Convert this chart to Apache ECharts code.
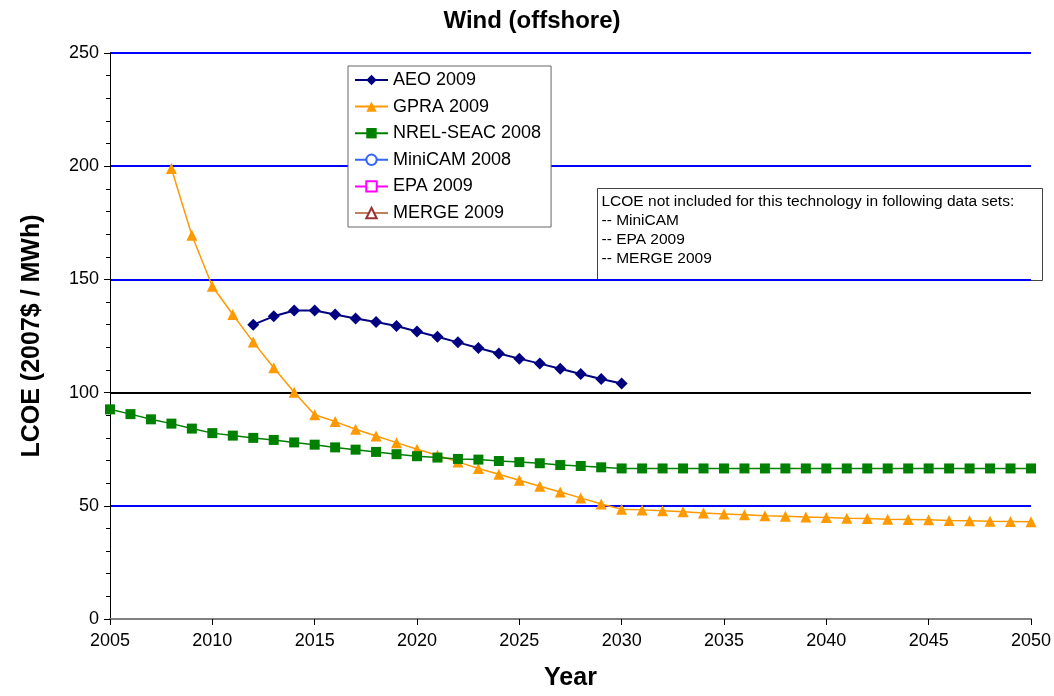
<!DOCTYPE html>
<html>
<head>
<meta charset="utf-8">
<script src="https://cdn.jsdelivr.net/npm/echarts@6/dist/echarts.min.js"></script>
<style>
  html, body { margin: 0; padding: 0; background: #fff; }
  #chart { width: 1054px; height: 696px; }
</style>
</head>
<body>
<div id="chart"></div>
<script>
// values
var aeoYears = [2012, 2013, 2014, 2015, 2016, 2017, 2018, 2019, 2020, 2021,
                2022, 2023, 2024, 2025, 2026, 2027, 2028, 2029, 2030];
var aeoValues = [130, 133.7, 136.3, 136.3, 134.5, 132.7, 131.2, 129.4, 127, 124.7,
                 122.2, 119.7, 117.3, 115, 112.8, 110.5, 108.2, 106, 104];

var gpraYears = [2008, 2009, 2010, 2011, 2012, 2013, 2014, 2015, 2016, 2017,
                 2018, 2019, 2020, 2021, 2022, 2023, 2024, 2025, 2026, 2027,
                 2028, 2029, 2030, 2031, 2032, 2033, 2034, 2035, 2036, 2037,
                 2038, 2039, 2040, 2041, 2042, 2043, 2044, 2045, 2046, 2047,
                 2048, 2049, 2050];
var gpraValues = [199, 169.5, 147, 134.5, 122.3, 111, 100.2, 90.2, 87.2, 83.8,
                  80.8, 77.9, 75, 72.3, 69.4, 66.5, 63.9, 61.3, 58.6, 56.1,
                  53.5, 50.8, 48.5, 48.2, 47.8, 47.4, 46.8, 46.4, 46, 45.6,
                  45.4, 45.1, 44.8, 44.5, 44.4, 44.1, 44, 43.8, 43.5, 43.4,
                  43.2, 43.1, 42.9];

var nrelYears = [2005, 2006, 2007, 2008, 2009, 2010, 2011, 2012, 2013, 2014,
                 2015, 2016, 2017, 2018, 2019, 2020, 2021, 2022, 2023, 2024,
                 2025, 2026, 2027, 2028, 2029, 2030, 2031, 2032, 2033, 2034,
                 2035, 2036, 2037, 2038, 2039, 2040, 2041, 2042, 2043, 2044,
                 2045, 2046, 2047, 2048, 2049, 2050];
var nrelValues = [92.6, 90.5, 88.2, 86.3, 84.1, 82.1, 81, 80, 79.1, 78,
                  77, 75.8, 74.8, 73.8, 72.8, 71.9, 71.3, 70.7, 70.4, 69.8,
                  69.3, 68.8, 68, 67.6, 67, 66.5, 66.5, 66.5, 66.5, 66.5,
                  66.5, 66.5, 66.5, 66.5, 66.5, 66.5, 66.5, 66.5, 66.5, 66.5,
                  66.5, 66.5, 66.5, 66.5, 66.5, 66.5];

var noteLines = [
  'LCOE not included for this technology in following data sets:',
  '-- MiniCAM',
  '-- EPA 2009',
  '-- MERGE 2009'
];

function pairs(xs, ys) {
  var out = [];
  for (var i = 0; i < xs.length; i++) {
    out.push([xs[i], ys[i]]);
  }
  return out;
}

var font = '"Liberation Sans", Arial, sans-serif';
var myChart = echarts.init(document.getElementById('chart'));

var option = {
  backgroundColor: '#fff',
  animation: false,
  title: {
    text: 'Wind (offshore)',
    left: 527,
    textAlign: 'center',
    top: 4,
    textStyle: { fontFamily: font, fontSize: 24, fontWeight: 'bold', color: '#000' }
  },
  grid: {
    left: 110,
    right: 23,
    top: 53,
    bottom: 76
  },
  legend: {
    orient: 'vertical',
    left: 348,
    top: 66,
    padding: [5, 10, 5, 6],
    itemGap: 8.6,
    itemWidth: 33,
    itemHeight: 13,
    borderColor: '#666',
    borderWidth: 1,
    backgroundColor: '#fff',
    textStyle: { fontFamily: font, fontSize: 18, color: '#000' },
    data: ['AEO 2009', 'GPRA 2009', 'NREL-SEAC 2008', 'MiniCAM 2008', 'EPA 2009', 'MERGE 2009']
  },
  xAxis: {
    type: 'value',
    min: 2005,
    max: 2050,
    interval: 5,
    name: 'Year',
    nameLocation: 'middle',
    nameGap: 47,
    nameTextStyle: { fontFamily: font, fontSize: 25, fontWeight: 'bold', color: '#000' },
    axisLine: { lineStyle: { color: '#808080', width: 2 } },
    axisTick: { inside: false, length: 6, lineStyle: { color: '#000' } },
    axisLabel: {
      fontFamily: font, fontSize: 18, color: '#000', margin: 13,
      formatter: function (v) { return String(v); }
    },
    splitLine: { show: false }
  },
  yAxis: {
    type: 'value',
    min: 0,
    max: 250,
    interval: 50,
    name: 'LCOE (2007$ / MWh)',
    nameLocation: 'middle',
    nameGap: 65,
    nameTextStyle: { fontFamily: font, fontSize: 25, fontWeight: 'bold', color: '#000' },
    axisLine: { show: true, lineStyle: { color: '#000', width: 1 } },
    axisTick: { show: true, length: 6, lineStyle: { color: '#000' } },
    minorTick: { show: true, splitNumber: 5, length: 4, lineStyle: { color: '#000' } },
    axisLabel: { fontFamily: font, fontSize: 18, color: '#000', margin: 11 },
    splitLine: {
      show: true,
      lineStyle: {
        color: ['#808080', '#0000FF', '#000000', '#0000FF', '#0000FF', '#0000FF'],
        width: 2
      }
    }
  },
  graphic: [{
    type: 'group',
    left: 597,
    top: 188,
    children: [{
      type: 'rect',
      shape: { x: 0, y: 0, width: 445, height: 92 },
      style: { fill: '#fff', stroke: '#444', lineWidth: 1 }
    }, {
      type: 'text',
      x: 4,
      y: 4,
      style: {
        text: noteLines.join('\n'),
        fontFamily: font,
        fontSize: 15.5,
        lineHeight: 19,
        fill: '#000'
      }
    }]
  }],
  series: [{
    name: 'AEO 2009',
    type: 'line',
    symbol: 'diamond',
    symbolSize: 12,
    color: '#000080',
    lineStyle: { width: 2, color: '#000080' },
    data: pairs(aeoYears, aeoValues)
  }, {
    name: 'GPRA 2009',
    type: 'line',
    symbol: 'triangle',
    symbolSize: 11,
    color: '#FF9900',
    lineStyle: { width: 1.5, color: '#FF9900' },
    data: pairs(gpraYears, gpraValues)
  }, {
    name: 'NREL-SEAC 2008',
    type: 'line',
    symbol: 'rect',
    symbolSize: 10,
    color: '#008000',
    lineStyle: { width: 1.5, color: '#008000' },
    data: pairs(nrelYears, nrelValues)
  }, {
    name: 'MiniCAM 2008',
    type: 'line',
    symbol: 'emptyCircle',
    symbolSize: 8,
    color: '#3366FF',
    lineStyle: { width: 1.5, color: '#3366FF' },
    data: []
  }, {
    name: 'EPA 2009',
    type: 'line',
    symbol: 'emptyRect',
    symbolSize: 9,
    color: '#FF00FF',
    lineStyle: { width: 1.5, color: '#FF00FF' },
    data: []
  }, {
    name: 'MERGE 2009',
    type: 'line',
    symbol: 'emptyTriangle',
    symbolSize: 9,
    color: '#993333',
    lineStyle: { width: 1.5, color: '#C08060' },
    data: []
  }]
};

myChart.setOption(option);
</script>
</body>
</html>
